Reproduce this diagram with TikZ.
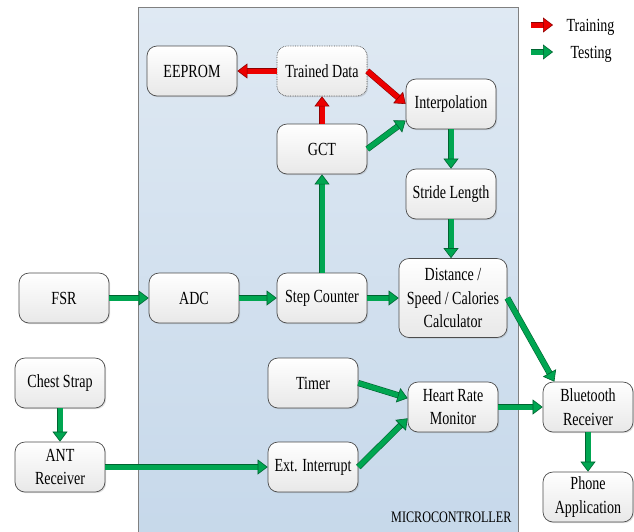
\documentclass[tikz,border=0pt]{standalone}
\usepackage{fontspec}
\setmainfont[FakeStretch=0.76]{Liberation Serif}
\usetikzlibrary{arrows.meta,shadows}
\definecolor{fwdgreen}{RGB}{0,166,81}
\definecolor{trainred}{RGB}{236,0,0}
\definecolor{mcutop}{RGB}{223,233,243}
\definecolor{mcubot}{RGB}{198,216,234}

\begin{document}
\begin{tikzpicture}[x=1pt,y=-1pt,
  font=\fontsize{18.5}{23.5}\selectfont,
  blk/.style={draw=black!70, line width=0.7pt, rounded corners=10pt,
    top color=white, bottom color=black!9,
    drop shadow={opacity=0.25, shadow xshift=1.2pt, shadow yshift=-1.2pt},
    minimum width=90pt, minimum height=50pt, inner sep=2pt, align=center},
  arr/.style={draw=#1, line width=5pt,
    -{Triangle[length=10pt,width=15pt,color=#1!60!black,fill=#1,line width=0.6pt]},
    preaction={draw=#1!60!black, line width=6.2pt, shorten >=9pt, -}}]
\useasboundingbox (0,0) rectangle (634,531);
\draw[draw=black!50, line width=0.8pt, top color=mcutop, bottom color=mcubot] (138,7) rectangle (518,545);
\node[anchor=base east, font=\fontsize{16}{18}\selectfont] (mculbl) at (515,522) {MICROCONTROLLER};

\node[blk] (eeprom) at (192,71) {EEPROM};
\node[blk, densely dotted] (trained) at (322,71) {Trained Data};
\node[blk] (interp) at (451,104) {Interpolation};
\node[blk] (gct) at (322,149) {GCT};
\node[blk] (stride) at (451,194) {Stride Length};
\node[blk, minimum width=108pt, minimum height=79pt] (calc) at (453,298) {Distance /\\Speed / Calories\\Calculator};
\node[blk] (fsr) at (64,298) {FSR};
\node[blk] (adc) at (194,298) {ADC};
\node[blk] (steps) at (322,298) {Step Counter};
\node[blk] (chest) at (60,383) {Chest Strap};
\node[blk] (ant) at (60,467) {ANT\\Receiver};
\node[blk] (timer) at (313,383) {Timer};
\node[blk] (extint) at (313,467) {Ext. Interrupt};
\node[blk] (hrm) at (453,407) {Heart Rate\\Monitor};
\node[blk] (bt) at (588,407) {Bluetooth\\Receiver};
\node[blk] (phone) at (588,497) {Phone\\Application};

\draw[arr=trainred] (trained) -- (eeprom);
\draw[arr=trainred] (gct) -- (trained);
\draw[arr=trainred] (trained.east) -- (interp.west);
\draw[arr=fwdgreen] (gct.east) -- (interp.200);
\draw[arr=fwdgreen] (interp) -- (stride);
\draw[arr=fwdgreen] (stride) -- (stride |- calc.north);
\draw[arr=fwdgreen] (fsr) -- (adc);
\draw[arr=fwdgreen] (adc) -- (steps);
\draw[arr=fwdgreen] (steps) -- (calc);
\draw[arr=fwdgreen] (steps) -- (gct);
\draw[arr=fwdgreen] (calc.east) -- (bt.143);
\draw[arr=fwdgreen] (timer.east) -- (hrm.169);
\draw[arr=fwdgreen] (extint.east) -- (hrm.194);
\draw[arr=fwdgreen] (hrm) -- (bt);
\draw[arr=fwdgreen] (bt) -- (phone);
\draw[arr=fwdgreen] (chest) -- (ant);
\draw[arr=fwdgreen] (ant) -- (extint);

\coordinate (trainA) at (531,25);
\coordinate (trainB) at (553,25);
\coordinate (testA) at (531,52);
\coordinate (testB) at (553,52);
\draw[arr=trainred] (trainA) -- (trainB);
\draw[arr=fwdgreen] (testA) -- (testB);
\node[anchor=base west] (trainlbl) at (563,31) {Training};
\node[anchor=base west] (testlbl) at (567,58) {Testing};
\end{tikzpicture}
\end{document}
